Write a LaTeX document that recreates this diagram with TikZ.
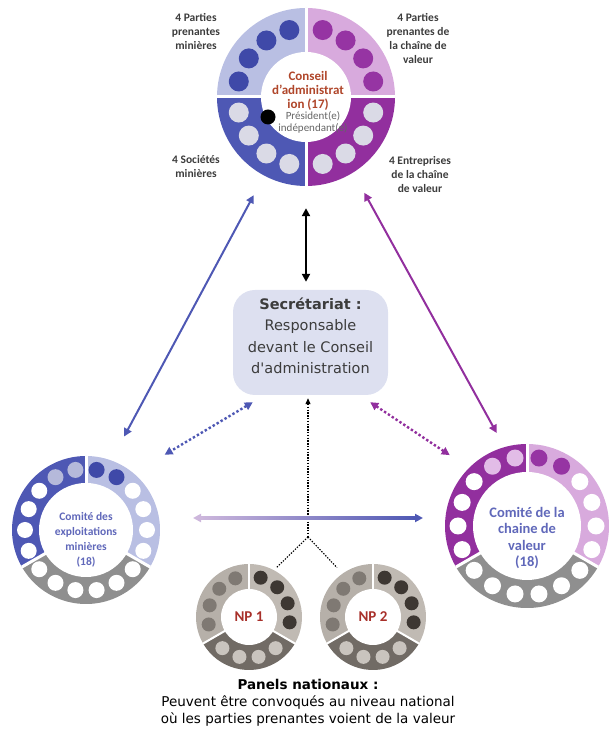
\documentclass[tikz,border=0pt]{standalone}
\usepackage{fontspec}
\setmainfont{Carlito}
\newfontfamily\roundfont{DejaVu Sans}
\usetikzlibrary{arrows.meta,positioning}

\definecolor{mineDark}{HTML}{4E58B4}
\definecolor{mineLight}{HTML}{B9BFE3}
\definecolor{mineDot}{HTML}{3F49A8}
\definecolor{mineSoft}{HTML}{B5B9DA}
\definecolor{chainDark}{HTML}{922F9E}
\definecolor{chainLight}{HTML}{D8AADD}
\definecolor{chainDot}{HTML}{9634A3}
\definecolor{chainSoft}{HTML}{E2BCE7}
\definecolor{paleDot}{HTML}{DADAE6}
\definecolor{ringGray}{HTML}{8F8F8F}
\definecolor{npA}{HTML}{B6B0A9}
\definecolor{npB}{HTML}{C0BAB3}
\definecolor{npC}{HTML}{716B65}
\definecolor{npDotA}{HTML}{7F7973}
\definecolor{npDotB}{HTML}{3D3732}
\definecolor{npDotC}{HTML}{C9C4BE}
\definecolor{secFill}{HTML}{DDE0F0}
\definecolor{boardRed}{HTML}{B0462A}
\definecolor{npRed}{HTML}{A8302A}
\definecolor{noteText}{HTML}{3C3C3C}
\definecolor{cteText}{HTML}{6068BA}
\definecolor{hzLeft}{HTML}{CDB7DC}

\begin{document}
\begin{tikzpicture}[x=1pt,y=1pt,
  >={Triangle[length=8pt,width=8pt]},
  ring/.style={circle,inner sep=0pt},
  seam/.style={white,line width=3pt},
  link/.style={<->,line width=2pt},
  dotlink/.style={<->,line width=2.4pt,dash pattern=on 2.4pt off 2.2pt},
  npline/.style={black,line width=1.1pt,dash pattern=on 1.4pt off 1.4pt},
  seatnote/.style={align=center,text=noteText,font=\bfseries\fontsize{11.5}{14}\selectfont},
  ctenote/.style={align=center,text=cteText,font=\bfseries\fontsize{11.5}{15}\selectfont}]
\useasboundingbox (0,0) rectangle (608,733);

% conseil d'administration
\node (board) at (306,636) [ring,minimum size=178pt] {};
\foreach \a/\col in {0/chainLight,90/mineLight,180/mineDark,270/chainDark}
  \fill[\col] (board.center) -- ++(\a:89) arc[start angle=\a,delta angle=90,radius=89pt] -- cycle;
\draw[seam] (board.north) -- (board.south);
\draw[seam] (board.west) -- (board.east);
\fill[white] (board.center) circle[radius=45pt];
\foreach \a in {104,125,146,167} \fill[mineDot] (board.center) ++(\a:69) circle[radius=10pt];
\foreach \a in {13,34,55,76} \fill[chainDot] (board.center) ++(\a:69) circle[radius=10pt];
\foreach \a in {193,214,235,256,284,305,326,347} \fill[paleDot] (board.center) ++(\a:69) circle[radius=10pt];
\node (boardname) at (308,642) [align=center,text=boardRed,font=\bfseries\fontsize{13}{14}\selectfont] {Conseil\\d'administrat\\ion (17)};
\node (chair) at (268,616) [circle,fill=black,inner sep=0pt,minimum size=15pt] {};
\node (chairnote) at (313,611) [align=center,text=black!60,font=\fontsize{11}{12}\selectfont] {Président(e)\\indépendant(e)};

\node (tlnote) at (196,701) [seatnote] {4 Parties\\prenantes\\minières};
\node (trnote) at (418,694) [seatnote] {4 Parties\\prenantes de\\la chaîne de\\valeur};
\node (blnote) at (196,566) [seatnote] {4 Sociétés\\minières};
\node (brnote) at (420,558) [seatnote] {4 Entreprises\\de la chaîne\\de valeur};

% secretariat
\node (sec) at (310.5,390.5) [rectangle,rounded corners=22pt,fill=secFill,minimum width=155pt,minimum height=105pt] {};
\node (sectext) at (310.5,397) [align=center,text=noteText,font=\roundfont\fontsize{14.5}{21.5}\selectfont] {\textbf{Secrétariat :}\\Responsable\\devant le Conseil\\d'administration};

% comite des exploitations minieres
\node (mining) at (86,203) [ring,minimum size=148pt] {};
\fill[mineDark] (mining.center) -- ++(90:74) arc[start angle=90,end angle=210,radius=74pt] -- cycle;
\fill[ringGray] (mining.center) -- ++(210:74) arc[start angle=210,end angle=330,radius=74pt] -- cycle;
\fill[mineLight] (mining.center) -- ++(330:74) arc[start angle=330,end angle=450,radius=74pt] -- cycle;
\foreach \a in {90,210,330} \draw[seam] (mining.center) -- (mining.\a);
\fill[white] (mining.center) circle[radius=47pt];
\foreach \a in {100,120} \fill[mineSoft] (mining.center) ++(\a:61) circle[radius=8pt];
\foreach \a in {80,60} \fill[mineDot] (mining.center) ++(\a:61) circle[radius=8pt];
\foreach \a in {140,160,...,320,340,0,20,40} \fill[white] (mining.center) ++(\a:61) circle[radius=8pt];
\node (miningname) at (86,193) [ctenote] {Comité des\\exploitations\\minières\\(18)};

% comite de la chaine de valeur
\node (chain) at (527,207) [ring,minimum size=164pt] {};
\fill[chainDark] (chain.center) -- ++(90:82) arc[start angle=90,end angle=210,radius=82pt] -- cycle;
\fill[ringGray] (chain.center) -- ++(210:82) arc[start angle=210,end angle=330,radius=82pt] -- cycle;
\fill[chainLight] (chain.center) -- ++(330:82) arc[start angle=330,end angle=450,radius=82pt] -- cycle;
\foreach \a in {90,210,330} \draw[seam] (chain.center) -- (chain.\a);
\fill[white] (chain.center) circle[radius=54pt];
\foreach \a in {100,120} \fill[chainSoft] (chain.center) ++(\a:69) circle[radius=8.5pt];
\foreach \a in {80,60} \fill[chainDot] (chain.center) ++(\a:69) circle[radius=8.5pt];
\foreach \a in {140,160,...,320,340,0,20,40} \fill[white] (chain.center) ++(\a:69) circle[radius=8.5pt];
\node (chainname) at (527,195) [ctenote,font=\bfseries\fontsize{14.5}{16.5}\selectfont] {Comité de la\\chaine de\\valeur\\(18)};

% panels nationaux
\foreach \p/\x in {1/249,2/373} {
  \node (np\p) at (\x,116) [ring,minimum size=106pt] {};
  \fill[npA] (np\p.center) -- ++(90:53) arc[start angle=90,end angle=210,radius=53pt] -- cycle;
  \fill[npC] (np\p.center) -- ++(210:53) arc[start angle=210,end angle=330,radius=53pt] -- cycle;
  \fill[npB] (np\p.center) -- ++(330:53) arc[start angle=330,end angle=450,radius=53pt] -- cycle;
  \foreach \a in {90,210,330} \draw[white,line width=2pt] (np\p.center) -- (np\p.\a);
  \fill[white] (np\p.center) circle[radius=28pt];
  \foreach \a in {109.5,136.5,163.5,190.5} \fill[npDotA] (np\p.center) ++(\a:41) circle[radius=7pt];
  \foreach \a in {-7.5,19.5,46.5,73.5} \fill[npDotB] (np\p.center) ++(\a:41) circle[radius=7pt];
  \foreach \a in {229.5,256.5,283.5,310.5} \fill[npDotC] (np\p.center) ++(\a:41) circle[radius=7pt];
  \node (np\p name) at (np\p.center) [text=npRed,font=\bfseries\fontsize{15}{17}\selectfont] {NP \p};
}
\node (npnote) at (308,30) [align=center,text=black,font=\roundfont\fontsize{13.5}{17}\selectfont] {\textbf{Panels nationaux :}\\Peuvent être convoqués au niveau national\\où les parties prenantes voient de la valeur};

% liaisons
\draw[link,black,line width=2.6pt,shorten <=22pt,shorten >=8pt] (board.south) -- (board.south |- sec.north);
\draw[link,mineDark,shorten <=22pt,shorten >=27pt] (board.242) -- (mining.70);
\draw[link,chainDark,shorten <=23pt,shorten >=16pt] (board.-58) -- (chain.106);
\draw[dotlink,mineDark,shorten >=36pt] ([xshift=20pt,yshift=-7pt]sec.south west) -- (mining.50);
\draw[dotlink,chainDark,shorten >=23pt] ([xshift=-18pt,yshift=-7pt]sec.south east) -- (chain.135);

\coordinate (fork) at (308,196);
\draw[npline,<-,>={Triangle[length=6pt,width=5pt]},shorten <=3pt] (fork |- sec.south) -- (fork);
\draw[npline,shorten >=4pt] (fork) -- (np1.62);
\draw[npline,shorten >=8pt] (fork) -- (np2.125);

\coordinate (hleft) at (193,215);
\coordinate (hright) at (423,215);
\shade[left color=hzLeft,right color=mineDark] ([xshift=6pt,yshift=-1.3pt]hleft) rectangle ([xshift=-6pt,yshift=1.3pt]hright);
\draw[->,hzLeft,line width=2.6pt] ([xshift=10pt]hleft) -- (hleft);
\draw[->,mineDark,line width=2.6pt] ([xshift=-10pt]hright) -- (hright);
\end{tikzpicture}
\end{document}
